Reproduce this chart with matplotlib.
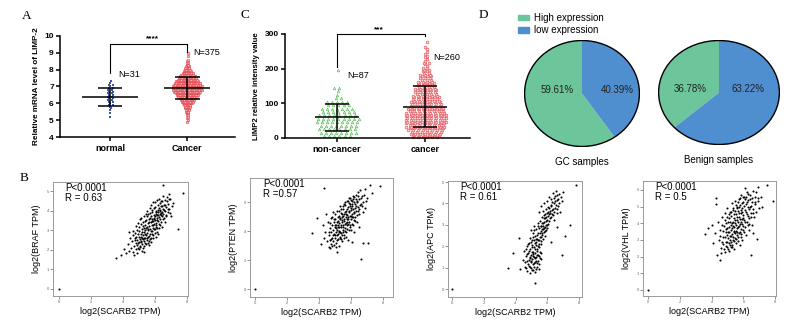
import numpy as np
import matplotlib
matplotlib.use("Agg")
import matplotlib.pyplot as plt
from matplotlib.patches import Circle, Patch

plt.rcParams["font.family"] = "Liberation Sans"

W, H = 802, 325

# ---- panel A: LIMP-2 mRNA, counts per 0.1 bin ----
a_groups = ["normal", "Cancer"]
a_normal_lo = 5.2
a_normal_counts = [1, 0, 1, 0, 1, 1, 1, 2, 1, 2, 2, 2, 2, 2, 2, 2, 2, 2, 1, 2, 1, 1]
a_cancer_lo = 4.9
a_cancer_counts = [1, 1, 1, 1, 2, 2, 3, 3, 4, 5, 6, 8, 10, 12, 14, 16, 18, 20, 22,
                   24, 24, 24, 22, 21, 19, 17, 15, 13, 11, 9, 7, 5, 4, 3, 2, 2,
                   1, 1, 0, 1, 0, 1]
a_n = ["N=31", "N=375"]

# ---- panel C: LIMP2 intensity ----
c_groups = ["non-cancer", "cancer"]
c_noncancer_lo, c_noncancer_step = 5, 10
c_noncancer_counts = [6, 8, 8, 8, 9, 9, 8, 7, 7, 5, 5, 2, 1, 1, 2, 0, 0, 0, 0, 1]
c_cancer_lo, c_cancer_step = 2.5, 5
c_cancer_counts = [6, 6, 7, 7, 8, 8, 9, 8, 9, 9, 9, 9, 9, 9, 9, 8, 8, 8, 7, 7,
                   7, 6, 6, 6, 6, 5, 5, 5, 5, 4, 4, 4, 4, 3, 3, 3, 3, 2, 2, 2,
                   2, 1, 1, 2, 1, 1, 1, 1, 1, 1, 0, 1, 1, 0, 0, 1]
c_n = ["N=87", "N=260"]

# ---- panel D: pies ----
pie_labels = ["High expression", "low expression"]
gc_share = [59.61, 40.39]
benign_share = [36.78, 63.22]
pie_titles = ["GC samples", "Benign samples"]

# ---- panel B: log2 TPM correlations with SCARB2 ----
braf_pts = [(3.55,1.6),(3.9,1.75),(4.05,2.05),(4.2,1.85),(4.3,2.3),(4.35,1.95),(4.45,2.6),(4.5,2.1),(4.55,2.45),(4.6,1.9),(4.62,2.75),
    (4.7,2.2),(4.72,2.5),(4.75,2.85),(4.78,2.05),(4.8,2.35),(4.82,2.65),(4.85,3.0),(4.88,2.25),(4.9,2.5),(4.92,2.8),(4.95,2.1),(4.97,3.15),(5.0,2.4),(5.0,2.65),
    (5.02,2.95),(5.05,2.2),(5.07,2.55),(5.1,2.8),(5.1,3.3),(5.12,2.4),(5.15,2.65),(5.17,3.05),(5.2,2.3),(5.2,2.9),(5.22,2.55),(5.25,3.4),(5.27,2.75),(5.3,2.45),(5.3,3.1),
    (5.33,2.9),(5.35,2.6),(5.37,3.25),(5.4,2.35),(5.4,3.0),(5.42,2.75),(5.45,3.5),(5.47,2.5),(5.5,3.15),(5.5,2.85),(5.52,3.7),(5.55,2.65),(5.55,3.35),(5.58,3.0),(5.6,2.45),
    (5.62,3.2),(5.64,3.55),(5.66,2.8),(5.68,3.9),(5.7,3.05),(5.72,3.4),(5.74,2.6),(5.76,3.7),(5.78,3.25),(5.8,2.95),(5.82,3.55),(5.84,4.05),(5.86,3.1),(5.88,3.45),(5.9,2.75),
    (5.92,3.8),(5.94,3.3),(5.96,3.6),(5.98,4.2),(6.0,3.05),(6.02,3.5),(6.04,3.85),(6.06,3.25),(6.08,4.0),(6.1,3.6),(6.12,2.9),(6.14,3.75),(6.16,4.3),(6.18,3.45),(6.2,3.95),
    (6.22,3.65),(6.24,4.15),(6.26,3.3),(6.28,3.85),(6.3,4.4),(6.32,3.55),(6.34,4.05),(6.36,3.75),(6.38,4.25),(6.4,3.4),(6.42,3.95),(6.44,4.5),(6.46,3.7),(6.48,4.1),(6.5,3.85),
    (6.53,4.3),(6.56,3.6),(6.6,4.0),(6.63,4.55),(6.66,3.8),(6.7,4.2),(6.74,4.7),(6.78,3.95),(6.82,4.35),(6.88,4.1),(6.95,4.6),(7.0,3.7),(7.1,4.4),
    (6.5,5.3),(6.9,4.85),(7.75,4.9),(7.45,3.05),(5.3,1.9),(4.4,2.9),(0.0,0.0),
    (4.63,2.95),(4.68,1.75),(4.74,2.62),(4.79,3.2),(4.86,1.85),(4.91,2.33),(4.94,3.35),(4.99,2.02),(5.03,3.55),(5.08,2.12),(5.11,2.47),(5.13,3.6),(5.16,1.95),(5.19,2.58),
    (5.23,3.22),(5.26,2.08),(5.29,3.7),(5.31,2.62),(5.34,2.18),(5.36,3.45),(5.39,2.83),(5.41,3.85),(5.44,2.28),(5.46,3.12),(5.49,2.58),(5.51,4.0),(5.53,2.35),(5.56,3.08),
    (5.59,3.82),(5.61,2.72),(5.63,2.25),(5.65,3.4),(5.67,4.15),(5.69,2.55),(5.71,3.62),(5.73,2.95),(5.75,4.3),(5.77,2.38),(5.79,3.48),(5.81,2.78),(5.83,3.92),(5.85,3.25),
    (5.87,4.45),(5.89,2.6),(5.91,3.58),(5.93,3.05),(5.95,4.12),(5.97,2.85),(5.99,3.7),(6.01,4.45),(6.03,3.18),(6.05,2.65),(6.07,3.92),(6.09,3.38),(6.11,4.55),(6.13,3.1),
    (6.15,3.52),(6.17,4.05),(6.19,2.8),(6.21,3.78),(6.25,4.6),(6.27,3.12),(6.31,3.98),(6.33,3.25),(6.37,4.48),(6.39,3.88),(6.43,3.15),(6.45,4.25),(6.49,3.55),(6.52,4.72),
    (6.57,4.05),(6.61,3.4),(6.64,4.3),(6.69,3.7),(6.73,4.5),(6.8,4.08),(6.86,4.6),(6.93,3.9),(7.05,4.25)]

pten_pts = [(3.55,3.85),(3.9,4.9),(4.1,3.1),(4.25,4.4),(4.3,3.5),(4.3,7.0),(4.4,3.9),(4.45,5.2),(4.5,3.3),(4.55,4.6),(4.6,2.9),
    (4.65,3.7),(4.68,4.2),(4.7,3.35),(4.72,4.9),(4.75,3.9),(4.78,3.1),(4.8,4.4),(4.83,3.55),(4.85,5.3),(4.88,4.05),(4.9,3.3),(4.93,4.6),(4.95,3.8),(4.98,4.25),(5.0,3.5),
    (5.02,4.85),(5.04,3.95),(5.06,4.45),(5.08,3.2),(5.1,5.4),(5.1,2.55),(5.12,4.1),(5.14,3.7),(5.16,4.7),(5.18,4.3),(5.2,3.45),(5.22,5.05),(5.24,3.9),(5.26,4.55),(5.28,4.0),(5.3,5.7),
    (5.32,3.6),(5.34,4.8),(5.36,4.25),(5.38,5.25),(5.4,3.85),(5.42,4.6),(5.44,5.0),(5.46,3.3),(5.48,4.4),(5.5,5.5),(5.52,4.05),(5.54,4.85),(5.56,3.7),(5.58,5.15),(5.6,4.5),
    (5.62,5.8),(5.64,4.2),(5.66,4.95),(5.68,5.4),(5.7,3.9),(5.72,4.65),(5.74,6.1),(5.76,5.1),(5.78,4.4),(5.8,5.65),(5.82,4.85),(5.84,3.4),(5.86,5.3),(5.88,6.3),(5.9,4.6),
    (5.92,5.05),(5.94,5.9),(5.96,4.3),(5.98,5.45),(6.0,6.15),(6.02,4.8),(6.04,5.2),(6.06,5.75),(6.08,4.5),(6.1,6.4),(6.12,5.0),(6.14,5.55),(6.16,3.9),(6.18,6.0),(6.2,5.3),
    (6.23,5.85),(6.26,4.7),(6.29,6.5),(6.32,5.4),(6.35,6.05),(6.38,5.1),(6.41,6.7),(6.44,5.65),(6.47,4.3),(6.5,6.2),(6.53,5.5),(6.56,6.85),(6.6,5.9),
    (6.65,2.1),(6.68,6.4),(6.72,5.3),(6.78,6.0),(6.85,6.9),(6.9,5.6),(6.98,6.3),(7.05,3.2),(7.2,7.2),(7.3,6.6),(7.8,7.1),
    (6.06,3.25),(6.75,3.2),(0.0,0.0),
    (4.62,3.95),(4.67,2.85),(4.71,4.55),(4.76,3.45),(4.81,4.95),(4.84,2.95),(4.87,3.75),(4.91,4.85),(4.94,3.05),(4.97,4.45),(5.01,3.7),(5.03,5.2),(5.07,4.2),(5.09,2.9),
    (5.11,4.65),(5.13,3.35),(5.17,5.0),(5.19,3.8),(5.21,4.45),(5.23,2.95),(5.25,5.35),(5.27,4.25),(5.29,3.55),(5.31,4.9),(5.33,3.95),(5.35,5.55),(5.37,3.45),(5.39,4.45),
    (5.41,5.2),(5.43,3.75),(5.45,4.75),(5.47,5.75),(5.49,3.95),(5.51,5.05),(5.53,4.3),(5.55,5.85),(5.57,3.5),(5.59,4.7),(5.61,5.3),(5.63,4.0),(5.65,6.0),(5.67,4.55),
    (5.69,3.6),(5.71,5.2),(5.73,4.85),(5.75,5.55),(5.77,4.15),(5.79,6.05),(5.81,5.0),(5.83,4.5),(5.85,5.95),(5.87,4.05),(5.89,5.35),(5.91,5.7),(5.93,4.45),(5.95,6.3),
    (5.97,5.05),(5.99,4.1),(6.01,5.6),(6.05,6.05),(6.07,5.0),(6.09,5.85),(6.11,4.4),(6.13,6.2),(6.17,5.25),(6.19,4.75),(6.21,6.35),(6.25,5.6),(6.28,4.95),(6.31,6.2),
    (6.34,5.7),(6.37,4.6),(6.4,6.0),(6.43,5.35),(6.46,6.45),(6.49,5.15),(6.55,5.8),(6.62,6.3),(6.7,5.7),(6.8,6.5),(6.92,6.1)]

apc_pts = [(4.45,1.35),(4.55,1.8),(4.6,1.05),(4.65,1.55),(4.7,2.0),(4.72,0.85),(4.75,1.3),(4.8,1.7),(4.82,1.1),(4.85,2.15),(4.88,1.45),(4.9,0.75),(4.92,1.85),(4.95,1.25),(4.98,1.6),(5.0,1.0),(5.02,2.05),(5.05,1.4),
    (5.07,1.75),(5.1,0.9),(5.12,1.55),(5.15,1.2),(5.17,1.95),(5.2,1.45),(5.22,0.8),(5.25,1.7),(5.27,1.3),(5.3,2.2),(5.32,1.05),(5.35,1.6),(5.38,1.85),(5.4,1.3),(5.45,1.55),(5.5,0.95),(5.55,1.75),(5.6,1.4),
    (4.9,2.4),(5.0,2.75),(5.05,2.3),(5.1,2.6),(5.15,2.95),(5.2,2.15),(5.25,2.5),(5.3,2.8),(5.35,2.35),(5.4,3.1),(5.42,2.6),(5.45,2.1),(5.5,2.85),(5.52,2.45),(5.55,3.2),(5.58,2.7),
    (5.6,2.25),(5.62,2.95),(5.65,2.55),(5.68,3.35),(5.7,2.8),(5.72,2.35),(5.75,3.1),(5.78,2.65),(5.8,3.45),(5.83,2.9),(5.86,2.5),(5.9,3.2),(5.93,2.75),(5.96,3.55),(6.0,3.0),
    (5.5,3.6),(5.6,3.9),(5.7,3.65),(5.8,4.0),(5.85,3.3),(5.9,3.75),(6.0,4.1),(6.02,3.4),(6.05,3.85),(6.1,3.2),(6.12,4.3),(6.15,3.55),(6.2,3.95),(6.22,3.35),(6.25,4.2),
    (6.3,3.7),(6.33,4.5),(6.35,3.45),(6.4,4.0),(6.42,3.25),(6.45,4.35),(6.5,3.8),(6.55,4.6),(6.6,3.55),(6.62,4.15),(6.7,3.9),(6.75,4.45),(6.8,3.6),(6.9,4.1),(7.0,4.55),
    (3.5,1.0),(3.85,1.7),(4.2,2.4),(4.3,0.95),(5.2,0.27),(6.9,1.6),(7.4,3.0),(7.1,2.5),(7.8,4.85),(6.25,2.2),(6.6,2.9),(0.0,0.0),
    (4.58,1.25),(4.63,1.85),(4.68,0.98),(4.73,1.62),(4.77,1.15),(4.79,2.1),(4.84,1.35),(4.87,1.78),(4.91,1.05),(4.94,1.5),(4.96,2.2),(4.99,1.3),(5.01,1.72),(5.04,0.88),
    (5.06,1.95),(5.09,1.18),(5.11,1.62),(5.14,2.3),(5.16,1.02),(5.18,1.52),(5.21,1.88),(5.23,1.25),(5.26,2.05),(5.28,1.5),(5.31,0.92),(5.33,1.78),(5.36,1.2),(5.39,2.0),
    (5.41,1.6),(5.44,2.3),(5.47,1.15),(5.49,1.95),(5.53,1.45),(5.57,2.1),(5.62,1.7),
    (5.08,2.45),(5.18,2.75),(5.28,2.35),(5.38,2.55),(5.44,2.95),(5.48,2.3),(5.53,2.6),(5.57,2.95),(5.61,2.45),(5.64,2.8),(5.67,3.1),(5.69,2.6),(5.73,2.95),(5.76,3.3),
    (5.79,2.85),(5.82,3.15),(5.84,2.7),(5.87,3.5),(5.89,3.0),(5.92,3.35),(5.95,2.85),(5.98,3.25),(6.03,3.6),(6.06,3.05),(6.08,3.5),(6.13,3.8),(6.16,3.3),(6.19,3.65),
    (6.24,3.9),(6.28,3.5),(6.31,4.05),(6.36,3.75),(6.39,4.25),(6.44,3.6),(6.48,4.1),(6.53,3.95),(6.58,4.4),(6.63,3.75),(6.68,4.2),(6.73,4.0),(6.85,4.3)]

vhl_pts = [(4.05,3.9),(4.1,2.8),(4.2,3.4),(4.3,5.5),(4.3,5.15),(4.35,2.1),(4.4,4.1),(4.45,3.0),(4.5,1.8),(4.55,3.6),(4.6,2.5),(4.65,4.4),(4.7,3.2),(4.75,2.75),(4.8,3.85),
    (4.82,2.3),(4.85,4.6),(4.88,3.5),(4.9,2.9),(4.92,4.0),(4.95,2.6),(4.98,3.3),(5.0,4.9),(5.0,3.7),(5.03,2.45),(5.06,3.1),(5.08,4.3),(5.1,2.8),(5.12,3.5),(5.15,4.7),(5.17,3.0),(5.2,3.9),(5.2,2.55),
    (5.22,4.45),(5.24,3.25),(5.26,5.2),(5.28,2.7),(5.3,3.7),(5.32,4.1),(5.34,3.0),(5.36,4.8),(5.38,3.45),(5.4,2.45),(5.42,4.3),(5.44,3.8),(5.46,5.35),(5.48,3.1),(5.5,4.0),(5.52,2.8),(5.54,4.55),(5.56,3.55),(5.58,5.0),(5.6,3.3),
    (5.62,4.2),(5.64,2.95),(5.66,4.75),(5.68,3.75),(5.7,5.45),(5.72,3.4),(5.74,4.4),(5.76,2.7),(5.78,3.95),(5.8,5.1),(5.82,4.6),(5.84,3.2),(5.86,5.7),(5.88,3.65),(5.9,4.25),(5.92,4.9),(5.94,3.0),(5.96,5.3),(5.98,3.85),(6.0,4.5),
    (6.03,5.6),(6.06,3.5),(6.09,4.8),(6.1,6.1),(6.12,4.1),(6.15,5.15),(6.18,3.3),(6.2,4.55),(6.23,5.85),(6.26,3.9),(6.29,4.95),(6.32,5.4),(6.35,4.3),(6.38,3.6),(6.41,5.0),(6.44,5.7),(6.47,4.6),(6.5,2.1),
    (6.52,5.3),(6.55,3.9),(6.58,4.85),(6.6,3.4),(6.62,5.95),(6.66,4.4),(6.7,5.15),(6.75,5.6),(6.8,4.7),(6.85,3.05),(6.9,5.35),(7.0,4.9),(7.1,5.6),(7.2,5.0),
    (7.5,6.3),(7.85,5.35),(3.8,3.7),(3.6,3.35),(6.9,6.2),(0.0,0.0),
    (4.52,3.25),(4.58,2.2),(4.63,3.9),(4.68,2.9),(4.73,3.55),(4.78,2.45),(4.83,3.2),(4.86,4.2),(4.89,2.65),(4.93,3.65),(4.96,4.4),(4.99,2.85),(5.02,3.45),(5.05,4.05),
    (5.07,2.35),(5.09,3.75),(5.11,4.55),(5.14,3.25),(5.16,2.7),(5.18,4.1),(5.21,3.6),(5.23,2.9),(5.25,4.65),(5.27,3.35),(5.29,4.0),(5.31,2.6),(5.33,4.9),(5.35,3.85),
    (5.37,3.2),(5.39,4.55),(5.41,3.55),(5.43,2.95),(5.45,4.2),(5.47,4.75),(5.49,3.4),(5.51,3.9),(5.53,5.1),(5.55,3.05),(5.57,4.35),(5.59,3.7),(5.61,4.9),(5.63,3.45),
    (5.65,4.05),(5.67,5.3),(5.69,3.15),(5.71,4.6),(5.73,3.85),(5.75,5.0),(5.77,4.25),(5.79,3.5),(5.81,5.5),(5.83,4.1),(5.85,4.8),(5.87,3.35),(5.89,5.2),(5.91,3.95),
    (5.93,4.65),(5.95,5.55),(5.97,3.6),(5.99,4.3),(6.02,5.05),(6.05,4.2),(6.08,5.45),(6.11,3.75),(6.14,4.7),(6.17,5.55),(6.21,4.05),(6.24,5.25),(6.27,4.45),(6.31,5.75),
    (6.34,4.85),(6.37,3.95),(6.4,5.45),(6.45,4.35),(6.5,5.05),(6.56,5.5),(6.63,4.6),(6.72,5.25),(6.8,5.85),(6.95,5.5)]

genes = ["BRAF", "PTEN", "APC", "VHL"]
p_text = ["P<0.0001"] * 4
r_text = ["R = 0.63", "R =0.57", "R = 0.61", "R = 0.5"]


def px_rect(left, top, right, bottom):
    return [left / W, 1 - bottom / H, (right - left) / W, (bottom - top) / H]


def swarm(ax, pos, lo, step, counts, dx, **kw):
    xs, ys = [], []
    for i, n in enumerate(counts):
        offs = (np.arange(n) - (n - 1) / 2) * dx + (dx * 0.3 if i % 2 else 0)
        xs.extend(pos + offs)
        ys.extend([lo + i * step] * n)
    ax.scatter(xs, ys, clip_on=False, zorder=2, **kw)
    vals = np.repeat(lo + np.arange(len(counts)) * step, counts)
    return vals.mean(), vals.std(ddof=1)


def mean_sd(ax, pos, m, s, hw_mean, hw_sd):
    kw = dict(color="black", lw=1.1, zorder=3, solid_capstyle="butt")
    ax.plot([pos - hw_mean, pos + hw_mean], [m, m], **kw)
    ax.plot([pos - hw_sd, pos + hw_sd], [m + s, m + s], **kw)
    ax.plot([pos - hw_sd, pos + hw_sd], [m - s, m - s], **kw)
    ax.plot([pos, pos], [m - s, m + s], **kw)


def dot_axes(ax):
    for side in ["top", "right"]:
        ax.spines[side].set_visible(False)
    for side in ["left", "bottom"]:
        ax.spines[side].set_linewidth(1.1)
    ax.tick_params(axis="y", length=3, width=1.1, labelsize=6, pad=1.5)
    ax.tick_params(axis="x", length=3, width=1.1, labelsize=6.5, pad=2)
    for lab in ax.get_xticklabels() + ax.get_yticklabels():
        lab.set_fontweight("bold")


fig = plt.figure(figsize=(W / 100, H / 100), dpi=100)

# ---------- A ----------
axA = fig.add_axes(px_rect(60, 36, 235, 137))
m, s = swarm(axA, 0, a_normal_lo, 0.1, a_normal_counts, 0.05,
             s=3, marker="s", color="#3b55a3", linewidths=0)
mean_sd(axA, 0, m, s, 0.36, 0.16)
m, s = swarm(axA, 1, a_cancer_lo, 0.1, a_cancer_counts, 0.016,
             s=3.5, facecolor="#f6b6b9", edgecolor="#e0303a", linewidths=0.35)
mean_sd(axA, 1, m, s, 0.3, 0.16)
axA.set_xlim(-0.65, 1.62)
axA.set_ylim(4, 10)
axA.set_xticks([0, 1], a_groups)
axA.set_yticks(range(4, 11))
axA.set_ylabel("Relative mRNA level of LIMP-2", fontsize=5.9, fontweight="bold", labelpad=3)
dot_axes(axA)
axA.plot([0, 0, 1, 1], [7.8, 9.52, 9.52, 9.05], color="black", lw=0.8, clip_on=False)
axA.text(0.55, 9.62, "****", ha="center", va="bottom", fontsize=6, fontweight="bold")
axA.text(0.1, 7.7, a_n[0], fontsize=6.5, va="center")
axA.text(1.08, 9.02, a_n[1], fontsize=6.5, va="center")

# ---------- C ----------
axC = fig.add_axes(px_rect(285, 34, 470, 138))
m, s = swarm(axC, 0, c_noncancer_lo, c_noncancer_step, c_noncancer_counts, 0.057,
             s=4, marker="^", facecolor="#c9ecc4", edgecolor="#52b850", linewidths=0.35)
mean_sd(axC, 0, m, s, 0.25, 0.14)
m, s = swarm(axC, 1, c_cancer_lo, c_cancer_step, c_cancer_counts, 0.055,
             s=4, facecolor="#fbd3d5", edgecolor="#e0404a", linewidths=0.4)
mean_sd(axC, 1, m, s, 0.25, 0.14)
axC.set_xlim(-0.59, 1.51)
axC.set_ylim(0, 300)
axC.set_xticks([0, 1], c_groups)
axC.set_yticks([0, 100, 200, 300])
axC.set_ylabel("LIMP2 relative intensity value", fontsize=5.6, fontweight="bold", labelpad=3)
dot_axes(axC)
axC.plot([0, 0, 1, 1], [205, 300, 300, 293], color="black", lw=0.8, clip_on=False)
axC.text(0.47, 302, "***", ha="center", va="bottom", fontsize=6, fontweight="bold")
axC.text(0.12, 179, c_n[0], fontsize=6.5, va="center")
axC.text(1.09, 231, c_n[1], fontsize=6.5, va="center")

# ---------- D ----------
green, blue = "#6dc59b", "#4f8fcf"
pie_boxes = [(524, 40, 640, 147), (658, 40, 780, 145)]
pct_x = [(-0.43, 0.62), (-0.48, 0.48)]
for box, share, title, (xl, xr) in zip(pie_boxes, [gc_share, benign_share], pie_titles, pct_x):
    ax = fig.add_axes(px_rect(*box))
    ax.pie(share, colors=[green, blue], startangle=90, counterclock=True,
           wedgeprops=dict(linewidth=0))
    ax.set_aspect("auto")
    ax.set_xlim(-1.01, 1.01)
    ax.set_ylim(-1.01, 1.01)
    ax.add_patch(Circle((0, 0), 1, fill=False, ec="black", lw=1.0))
    ax.text(xl, 0.06, f"{share[0]:.2f}%", ha="center", va="center", fontsize=7, color="#222222")
    ax.text(xr, 0.06, f"{share[1]:.2f}%", ha="center", va="center", fontsize=7, color="#222222")
    ax.text(0, -1.2, title, ha="center", va="top", fontsize=7)

fig.legend(handles=[Patch(color=green), Patch(color=blue)], labels=pie_labels,
           loc="upper left", bbox_to_anchor=(514 / W, 1 - 9 / H), frameon=False,
           fontsize=7, handlelength=1.1, handleheight=0.55, handletextpad=0.6,
           labelspacing=0.25, borderaxespad=0)

# ---------- B ----------
b_boxes = [(53, 182, 188, 296), (250, 178, 393, 297), (448, 181, 582, 297), (643, 181, 776, 296)]
b_xlims = [(-0.375, 8.06), (-0.31, 8.625), (-0.25, 8.18), (-0.31, 8.05)]
b_ylims = [(-0.36, 5.46), (-0.55, 7.66), (-0.37, 5.05), (-0.36, 6.53)]
b_yticks = [range(0, 6), range(0, 7, 2), range(0, 6), range(0, 7)]
for box, pts, gene, pt, rt, xl, yl, yt in zip(b_boxes, [braf_pts, pten_pts, apc_pts, vhl_pts],
                                              genes, p_text, r_text, b_xlims, b_ylims, b_yticks):
    ax = fig.add_axes(px_rect(*box))
    x, y = np.array(pts).T
    ax.scatter(x, y, s=2.2, color="black", linewidths=0)
    ax.set_xlim(*xl)
    ax.set_ylim(*yl)
    ax.set_xticks(range(0, 9, 2))
    ax.set_yticks(list(yt))
    ax.tick_params(length=2, width=0.5, labelsize=3, pad=1, colors="#666666")
    for sp in ax.spines.values():
        sp.set_color("#9a9a9a")
        sp.set_linewidth(0.7)
    ax.text(0.09, 0.995, pt, transform=ax.transAxes, va="top", fontsize=7)
    ax.text(0.09, 0.905, rt, transform=ax.transAxes, va="top", fontsize=7)
    ax.set_xlabel("log2(SCARB2 TPM)", fontsize=6.5, labelpad=2)
    ax.set_ylabel(f"log2({gene} TPM)", fontsize=6.5, labelpad=4)

# panel letters
for letter, (lx, ly) in zip("ACDB", [(27, 16), (245, 15), (483, 15), (24, 178)]):
    fig.text(lx / W, 1 - ly / H, letter, fontsize=9.5, family="Liberation Serif",
             ha="center", va="center")

fig.savefig("out.png", dpi=100)
